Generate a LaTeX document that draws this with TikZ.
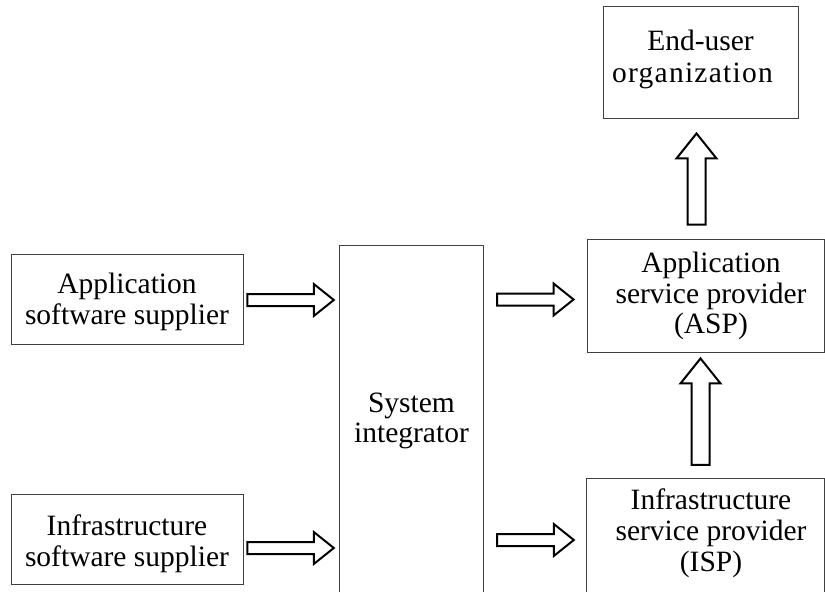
\documentclass[tikz,border=0pt]{standalone}
\usepackage{fontspec}
\setmainfont{Liberation Serif}
\usetikzlibrary{calc}

% block arrow pointing right: shaft from #1 to the x of #2, at the height of #1
\newcommand{\hblockarrow}[2]{%
  \draw[blk] let \p1=(#1), \p2=(#2) in
    (\x1,\y1+6pt) -- (\x2-20pt,\y1+6pt) -- (\x2-20pt,\y1+16pt) -- (\x2,\y1)
    -- (\x2-20pt,\y1-16pt) -- (\x2-20pt,\y1-6pt) -- (\x1,\y1-6pt) -- cycle;}
% block arrow pointing up: from #1 to the height of #2, at the x of #1
\newcommand{\vblockarrow}[2]{%
  \draw[blk] let \p1=(#1), \p2=(#2) in
    (\x1-9pt,\y1) -- (\x1-9pt,\y2-25pt) -- (\x1-20pt,\y2-25pt) -- (\x1,\y2)
    -- (\x1+20pt,\y2-25pt) -- (\x1+9pt,\y2-25pt) -- (\x1+9pt,\y1) -- cycle;}

\tikzset{
  boxline/.style={draw=black!75, line width=0.9pt},
  frame/.style={inner sep=0pt},
  box/.style={frame, boxline},
  txt/.style={align=center, inner sep=0pt,
    font=\fontsize{29.5}{30.8}\selectfont},
  blk/.style={draw=black, line width=2pt, fill=white, line join=miter},
}

\begin{document}
\begin{tikzpicture}[x=1pt, y=-1pt]
\useasboundingbox (0,0) rectangle (825,592);

% suppliers
\node[box, minimum width=232, minimum height=90] (app) at (127,299) {};
\node[txt] (applabel) at ($(app.center)+(0,3)$) {Application\\software supplier};
\node[box, minimum width=232, minimum height=90] (infra) at (127,539) {};
\node[txt] (infralabel) at ($(infra.center)+(0,4.5)$) {Infrastructure\\software supplier};

% system integrator, running off the lower edge
\node[frame, minimum width=143, minimum height=346] (si) at (411.5,419) {};
\draw[boxline] (si.south west) -- (si.north west) -- (si.north east) -- (si.south east);
\node[txt] (silabel) at ($(si.center)+(0,2)$) {System\\integrator};

% service providers
\node[box, minimum width=237, minimum height=113] (asp) at (705.5,295.5) {};
\node[txt] (asplabel) at (711,296) {Application\\service provider\\(ASP)};
\node[frame, minimum width=237, minimum height=113] (isp) at (705.5,535.5) {};
\draw[boxline] (isp.south west) -- (isp.north west) -- (isp.north east) -- (isp.south east);
\node[txt] (isplabel) at (711,533) {Infrastructure\\service provider\\(ISP)};

% end user
\node[box, minimum width=195, minimum height=112] (eu) at (700.5,62) {};
\node[txt, font=\fontsize{29.5}{32}\selectfont] (eulabel) at ($(eu.center)+(0,-2.5)$)
  {End-user\\\hspace*{-16pt}{\addfontfeature{LetterSpace=4.2}organization}};

% flows
\coordinate (a1s) at ($(app.east)+(4,1)$);
\coordinate (a1e) at ($(si.west)+(-6,0)$);
\coordinate (a2s) at ($(infra.east)+(4,9)$);
\coordinate (a2e) at ($(si.west)+(-6,0)$);
\coordinate (a3s) at ($(si.east|-asp.center)+(14,4)$);
\coordinate (a3e) at ($(asp.west)+(-13,0)$);
\coordinate (a4s) at ($(si.east|-isp.center)+(14,4.5)$);
\coordinate (a4e) at ($(isp.west)+(-13,0)$);
\coordinate (a5s) at ($(asp.north)+(-9,-14)$);
\coordinate (a5e) at ($(eu.south)+(0,15)$);
\coordinate (a6s) at ($(isp.north)+(-5,-14)$);
\coordinate (a6e) at ($(asp.south)+(0,6)$);

\hblockarrow{a1s}{a1e}
\hblockarrow{a2s}{a2e}
\hblockarrow{a3s}{a3e}
\hblockarrow{a4s}{a4e}
\vblockarrow{a5s}{a5e}
\vblockarrow{a6s}{a6e}
\end{tikzpicture}
\end{document}
